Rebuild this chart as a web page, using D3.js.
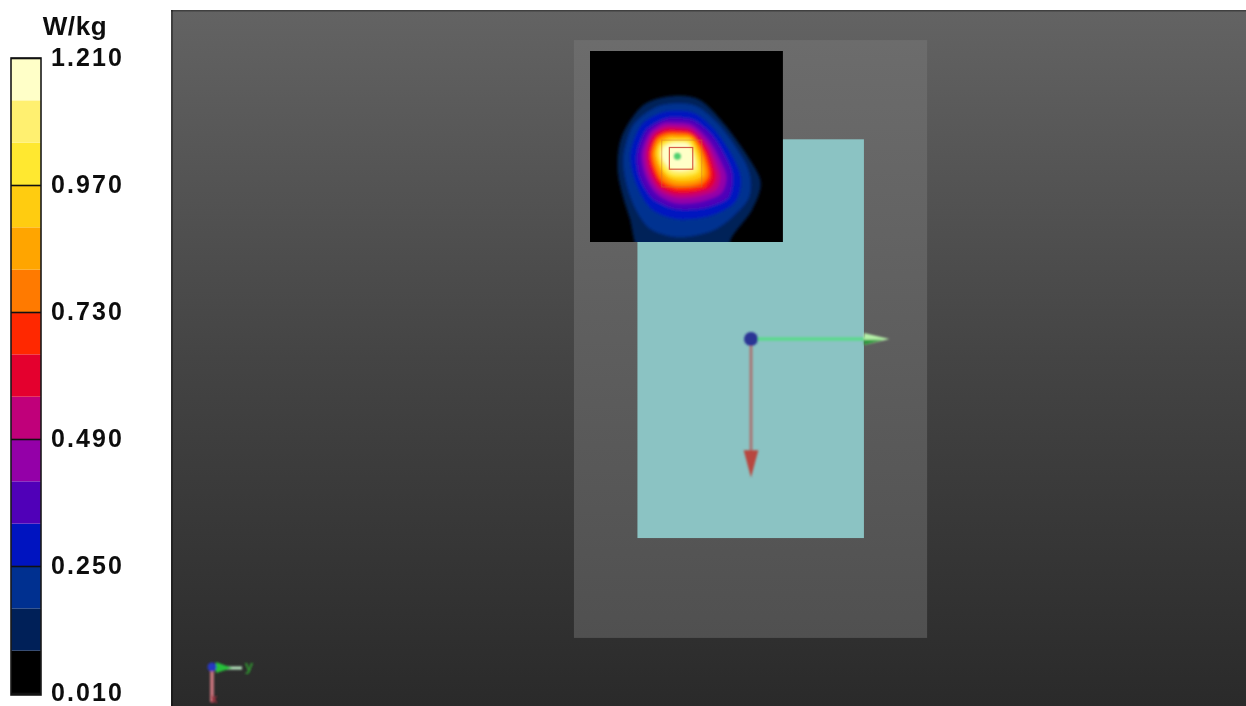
<!DOCTYPE html>
<html><head><meta charset="utf-8">
<script src="https://cdnjs.cloudflare.com/ajax/libs/d3/7.8.5/d3.min.js"></script>
<style>
html,body{margin:0;padding:0;background:#fff;overflow:hidden}
svg{display:block}
.lab{font-family:"Liberation Sans",Arial,sans-serif;font-weight:700;fill:#111;letter-spacing:2.1px}
</style></head><body>
<svg id="c" width="1246" height="706"></svg>
<script>
// Colour bar
const unit = "W/kg";
const bandEdges = [0.01,0.09,0.17,0.25,0.33,0.41,0.49,0.57,0.65,0.73,0.81,0.89,0.97,1.05,1.13,1.21];
const bandColors = ["#000000","#002058","#003090","#0014c0","#5000b8","#9400a8","#c0007a","#e4002e",
                    "#ff2800","#ff7a00","#ffa500","#ffcc10","#ffe830","#fff070","#ffffc8"];
const tickValues = [0.01,0.25,0.49,0.73,0.97,1.21];

// Scene geometry in millimetres, centred on the axes origin
const phantomExtent = [[-55.5,55.2],[-93.7,93.7]];
const deviceExtent = [[-35.6,35.4],[-62.6,62.4]];
const mapExtent = [[-50.5,10],[-90.3,-30.4]];
const axisLengthMm = 43.4;

// Iso-SAR outlines in map grid units, lowest level first
const levels = [0.09,0.17,0.25,0.33,0.41,0.49,0.57,0.65,0.73,0.81,0.89,0.97,1.05,1.13];
const contours = [
 [[280,168],[360,180],[435,255],[510,360],[542,430],[515,510],[455,590],[420,660],[200,660],[148,530],[114,400],[125,290],[190,195]],
 [[280,190],[352,200],[424,262],[494,365],[512,430],[496,490],[410,565],[300,590],[206,562],[152,472],[130,360],[158,258],[220,205]],
 [[285,212],[348,222],[412,280],[466,366],[482,425],[462,488],[385,528],[288,536],[212,504],[166,424],[152,340],[182,258],[234,222]],
 [[285,234],[344,243],[402,294],[448,376],[456,425],[440,476],[366,504],[288,506],[220,476],[180,412],[172,340],[198,272],[244,241]],
 [[285,248],[338,256],[390,306],[430,382],[438,420],[420,462],[354,486],[285,488],[228,458],[196,404],[186,340],[208,280],[248,250]],
 [[285,258],[336,266],[384,316],[416,388],[420,420],[404,452],[348,470],[285,472],[234,448],[204,398],[196,340],[214,285],[250,260]],
 [[288,266],[334,274],[378,322],[404,392],[406,418],[390,444],[342,458],[285,460],[238,438],[212,390],[204,340],[220,290],[252,268]],
 [[290,274],[334,281],[372,328],[394,398],[378,438],[338,450],[285,450],[243,430],[218,386],[210,340],[226,295],[255,276]],
 [[290,280],[335,287],[368,335],[386,400],[368,430],[330,440],[285,440],[246,422],[224,382],[216,340],[230,298],[258,282]],
 [[292,287],[336,293],[363,340],[377,398],[357,424],[318,432],[280,430],[250,410],[230,376],[222,340],[236,302],[262,288]],
 [[292,293],[334,298],[358,345],[368,400],[345,418],[300,422],[262,410],[240,378],[228,340],[240,308],[268,293]],
 [[294,298],[332,303],[352,345],[358,395],[320,410],[275,408],[248,388],[234,350],[238,316],[266,300]],
 [[294,303],[328,308],[346,345],[350,390],[315,402],[275,400],[252,378],[240,348],[244,320],[268,305]],
 [[294,308],[325,312],[340,345],[342,380],[310,392],[275,388],[255,368],[245,345],[250,322],[272,310]]
];
const mapGridX = [30,608], mapGridY = [33,605];
const peakSquare = {x0:268,y0:322,x1:338,y1:387};
const cubeSquare = {x0:245,y0:300,x1:365,y1:440};
const peakPoint = [292,348];
const triadAxes = ["y","x"];

const svg = d3.select("#c");
const defs = svg.append("defs");
const addBlur=(id,s)=>defs.append("filter").attr("id",id)
  .attr("filterUnits","userSpaceOnUse").attr("x",-1300).attr("y",-800).attr("width",3800).attr("height",2300)
  .append("feGaussianBlur").attr("stdDeviation",s);
addBlur("soft",1.7); addBlur("edge",0.9); addBlur("tiny",0.4); addBlur("triad",1.3);

const grad=(id,stops)=>{const g=defs.append("linearGradient").attr("id",id).attr("x1",0).attr("y1",0).attr("x2",0).attr("y2",1);
  stops.forEach(([o,c])=>g.append("stop").attr("offset",o).attr("stop-color",c));};
grad("bg",[[0,"#636363"],[0.5,"#444444"],[1,"#2a2a2a"]]);
grad("ph",[[0,"#6c6c6c"],[1,"#505050"]]);

// Panel background
svg.append("rect").attr("x",171).attr("y",10).attr("width",1075).attr("height",696).attr("fill","url(#bg)");
svg.append("rect").attr("x",171).attr("y",10).attr("width",2).attr("height",696).attr("fill","#000").attr("opacity",.35);
svg.append("rect").attr("x",171).attr("y",10).attr("width",1075).attr("height",1.5).attr("fill","#000").attr("opacity",.35);

// Scene scales
const mm=3.19, ox=751, oy=339;
const sx=d3.scaleLinear().domain([0,1]).range([ox,ox+mm]);
const sy=d3.scaleLinear().domain([0,1]).range([oy,oy+mm]);
const box=(ext,fill)=>svg.append("rect")
  .attr("x",sx(ext[0][0])).attr("y",sy(ext[1][0]))
  .attr("width",sx(ext[0][1])-sx(ext[0][0])).attr("height",sy(ext[1][1])-sy(ext[1][0]))
  .attr("fill",fill);
box(phantomExtent,"url(#ph)");
box(deviceExtent,"#8bc3c3");

// SAR map
const mx=d3.scaleLinear().domain(mapGridX).range([sx(mapExtent[0][0]),sx(mapExtent[0][1])]);
const my=d3.scaleLinear().domain(mapGridY).range([sy(mapExtent[1][0]),sy(mapExtent[1][1])]);
const color=d3.scaleThreshold().domain(bandEdges.slice(1,-1)).range(bandColors);
defs.append("clipPath").attr("id","mapclip").append("rect")
  .attr("x",mx(mapGridX[0])).attr("y",my(mapGridY[0]))
  .attr("width",mx(mapGridX[1])-mx(mapGridX[0])).attr("height",my(mapGridY[1])-my(mapGridY[0]));
const map=svg.append("g").attr("clip-path","url(#mapclip)");
map.append("rect").attr("x",mx(mapGridX[0])).attr("y",my(mapGridY[0]))
  .attr("width",mx(mapGridX[1])-mx(mapGridX[0])).attr("height",my(mapGridY[1])-my(mapGridY[0])).attr("fill","#000");
const line=d3.line().x(d=>mx(d[0])).y(d=>my(d[1])).curve(d3.curveCardinalClosed.tension(.1));
map.append("g").attr("filter","url(#soft)").selectAll("path").data(contours).join("path")
  .attr("d",line).attr("fill",(d,i)=>color(levels[i]+0.001));
const sq=(s,stroke,op)=>map.append("rect").attr("x",mx(s.x0)).attr("y",my(s.y0))
  .attr("width",mx(s.x1)-mx(s.x0)).attr("height",my(s.y1)-my(s.y0))
  .attr("fill","none").attr("stroke",stroke).attr("stroke-width",1.2).attr("opacity",op).attr("filter","url(#tiny)");
sq(peakSquare,"#d04030",.85);
sq(cubeSquare,"#d0702a",.4);
map.append("circle").attr("cx",mx(peakPoint[0])).attr("cy",my(peakPoint[1])).attr("r",3.5)
  .attr("fill","#4fd070").attr("filter","url(#edge)");

// Coordinate axes
const ax=svg.append("g").attr("filter","url(#edge)");
ax.append("line").attr("x1",sx(0)).attr("y1",sy(0)).attr("x2",sx(axisLengthMm-6)).attr("y2",sy(0))
  .attr("stroke","#5cd98c").attr("stroke-width",3.5);
ax.append("path").attr("d",d3.line()([[sx(axisLengthMm-8),sy(-1.9)],[sx(axisLengthMm),sy(0)],[sx(axisLengthMm-8),sy(1.9)]]))
  .attr("fill","#b5f0a8");
ax.append("path").attr("d",d3.line()([[sx(axisLengthMm-8),sy(.2)],[sx(axisLengthMm-2),sy(.2)],[sx(axisLengthMm-8),sy(1.9)]]))
  .attr("fill","#2c9a3c");
ax.append("line").attr("x1",sx(0)).attr("y1",sy(0)).attr("x2",sx(0)).attr("y2",sy(axisLengthMm-6))
  .attr("stroke","#a87674").attr("stroke-width",3);
ax.append("path").attr("d",d3.line()([[sx(-2.3),sy(axisLengthMm-8.5)],[sx(2.3),sy(axisLengthMm-8.5)],[sx(0),sy(axisLengthMm)]]))
  .attr("fill","#b8473f");
ax.append("circle").attr("cx",sx(0)).attr("cy",sy(0)).attr("r",7).attr("fill","#2c3494");

// Small orientation triad
const t=svg.append("g").attr("filter","url(#triad)");
const tx=212, ty=668;
t.append("line").attr("x1",tx).attr("y1",ty).attr("x2",tx+30).attr("y2",ty).attr("stroke","#b8e6c0").attr("stroke-width",3);
t.append("path").attr("d",d3.line()([[tx+4,ty-6],[tx+20,ty],[tx+4,ty+5]])).attr("fill","#25c13a");
t.append("line").attr("x1",tx).attr("y1",ty).attr("x2",tx).attr("y2",ty+34).attr("stroke","#c07078").attr("stroke-width",4);
t.append("circle").attr("cx",tx).attr("cy",ty-1).attr("r",4.5).attr("fill","#2838c0");
svg.append("text").attr("x",249).attr("y",671).attr("text-anchor","middle").attr("font-family","Liberation Sans").attr("font-size",15).attr("font-weight",700)
  .attr("fill","#2f9a2f").attr("filter","url(#edge)").text(triadAxes[0]);
svg.append("text").attr("x",214).attr("y",703).attr("text-anchor","middle").attr("font-family","Liberation Sans").attr("font-size",12).attr("font-weight",700)
  .attr("fill","#9a2f3a").attr("filter","url(#edge)").text(triadAxes[1]);

// Colour bar
const y=d3.scaleLinear().domain([0.01,1.21]).range([693,58]);
const barX=11, barW=30, barBottom=695;
const bar=svg.append("g");
bar.selectAll("rect").data(bandColors).join("rect")
  .attr("x",barX).attr("width",barW)
  .attr("y",(d,i)=>y(bandEdges[i+1]))
  .attr("height",(d,i)=>(i===0?barBottom:y(bandEdges[i]))-y(bandEdges[i+1]))
  .attr("fill",d=>d);
bar.append("rect").attr("x",barX).attr("y",58).attr("width",barW).attr("height",barBottom-58)
  .attr("fill","none").attr("stroke","#1a1a1a").attr("stroke-width",1.6);
const axis=d3.axisRight(y).tickValues(tickValues).tickSize(barW).tickPadding(10).tickFormat(d3.format(".3f"));
const ag=svg.append("g").attr("transform",`translate(${barX},0)`).call(axis);
ag.select(".domain").remove();
ag.selectAll("line").attr("stroke","#111").attr("stroke-width",1.6);
ag.selectAll("text").attr("class","lab").attr("font-size",25).attr("font-family",null).attr("filter","url(#tiny)").attr("dy","0.3em");
svg.append("text").attr("class","lab").attr("x",75).attr("y",35).attr("text-anchor","middle").attr("font-size",26)
  .style("letter-spacing","0.6px").attr("filter","url(#tiny)").text(unit);
</script>
</body></html>
